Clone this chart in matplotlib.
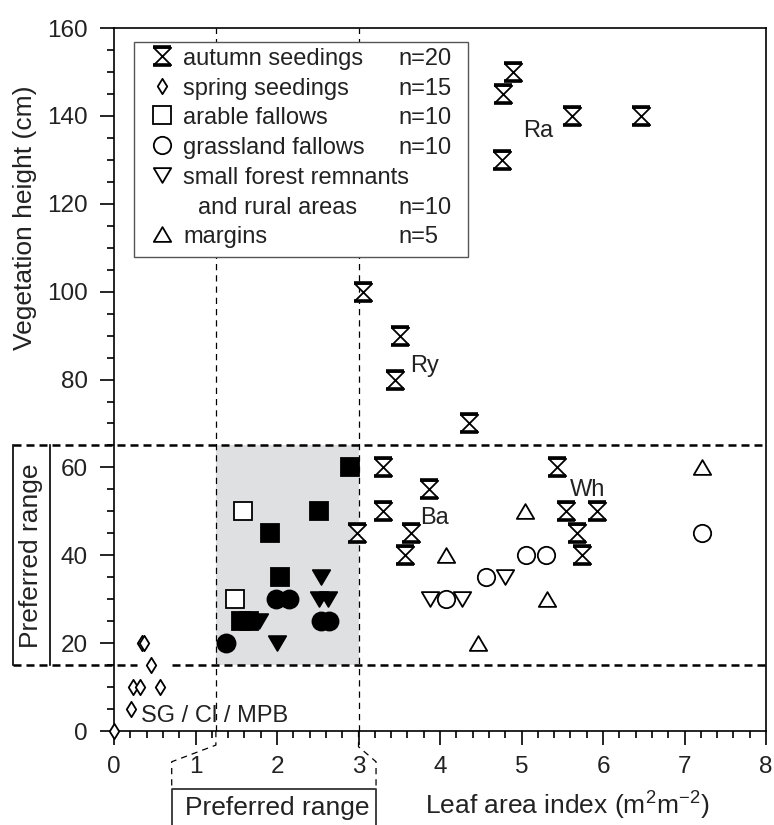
import matplotlib
matplotlib.use('Agg')
import matplotlib.pyplot as plt
from matplotlib.path import Path
from matplotlib.patches import Rectangle
from matplotlib.transforms import blended_transform_factory
import numpy as np

plt.rcParams['font.family'] = ['Liberation Sans', 'DejaVu Sans']
plt.rcParams['mathtext.default'] = 'regular'

# ---------------- data ----------------
autumn_lai = [4.90, 4.77, 4.76, 5.62, 6.47, 3.05, 3.51, 3.45, 4.36, 3.30,
              5.43, 3.86, 3.30, 2.98, 3.64, 3.57, 5.55, 5.93, 5.68, 5.74]
autumn_h = [150, 145, 130, 140, 140, 100, 90, 80, 70, 60,
            60, 55, 50, 45, 45, 40, 50, 50, 45, 40]

spring_lai = [0.0, 0.21, 0.23, 0.32, 0.57, 0.45, 0.34, 0.37]
spring_h = [0, 5, 10, 10, 10, 15, 20, 20]

arable_lai_filled = [1.91, 2.04, 2.52, 2.90, 1.56, 1.66]
arable_h_filled = [45, 35, 50, 60, 25, 25]
arable_lai_open = [1.58, 1.48]
arable_h_open = [50, 30]

grass_lai_filled = [1.37, 1.99, 2.15, 2.54, 2.64]
grass_h_filled = [20, 30, 30, 25, 25]
grass_lai_open = [7.21, 5.05, 5.30, 4.57, 4.07]
grass_h_open = [45, 40, 40, 35, 30]

forest_lai_filled = [2.54, 2.52, 2.62, 1.78, 2.00]
forest_h_filled = [35, 30, 30, 25, 20]
forest_lai_open = [3.88, 4.27, 4.80]
forest_h_open = [30, 30, 35]

margin_lai = [7.21, 5.04, 4.07, 5.31, 4.47]
margin_h = [60, 50, 40, 30, 20]

legend_labels = ['autumn seedings', 'spring seedings', 'arable fallows',
                 'grassland fallows', 'small forest remnants', 'and rural areas', 'margins']
legend_n = ['n=20', 'n=15', 'n=10', 'n=10', '', 'n=10', 'n=5']

crop_labels = ['Ra', 'Ry', 'Ba', 'Wh', 'SG / Cl / MPB']
crop_lai = [5.02, 3.63, 3.75, 5.59, 0.33]
crop_h = [135.3, 81.8, 47.1, 53.5, 2.1]

lai_range = [1.25, 3.0]
height_range = [15, 65]

x_ticks = list(range(0, 9))
y_ticks = list(range(0, 161, 20))

# ---------------- markers ----------------
M, L, C = Path.MOVETO, Path.LINETO, Path.CLOSEPOLY
hourglass = Path([(-1, 1), (1, 1), (-1, -1), (1, -1), (-1, 1)], [M, L, L, L, C])
hg_bars = Path([(-1, 1), (1, 1), (-1, -1), (1, -1)], [M, L, M, L])
tri_up = Path([(0, 0.85), (-1, -0.85), (1, -0.85), (0, 0.85)], [M, L, L, C])
tri_down = Path([(0, -0.85), (-1, 0.85), (1, 0.85), (0, -0.85)], [M, L, L, C])
diamond = Path([(0, 1), (0.62, 0), (0, -1), (-0.62, 0), (0, 1)], [M, L, L, L, C])

TXT = '#222222'
fig = plt.figure(figsize=(7.74, 8.25), dpi=100)
ax = fig.add_axes([0.1473, 0.1139, 0.8424, 0.8521])
ax.set_xlim(0, 8)
ax.set_ylim(0, 160)

# preferred range shading and lines
ax.add_patch(Rectangle((lai_range[0], height_range[0]), lai_range[1] - lai_range[0],
                       height_range[1] - height_range[0], fc='#dfe0e2', ec='none', zorder=0.5))
for xv in lai_range:
    ax.plot([xv, xv], [0, 160], color='black', lw=0.9, ls=(0, (5, 4)), zorder=1)

tr_left = blended_transform_factory(ax.transAxes, ax.transData)
hd = dict(color='black', lw=1.8, ls=(0, (3.2, 2.0)), zorder=1.2, clip_on=False)
ax.plot([-0.1554, 1.0], [height_range[1]] * 2, transform=tr_left, **hd)
ax.plot([-0.1554, 0.28 / 8], [height_range[0]] * 2, transform=tr_left, **hd)
ax.plot([0.71 / 8, 1.0], [height_range[0]] * 2, transform=tr_left, **hd)
for xa in (-0.1554, -0.0982):
    ax.plot([xa, xa], height_range, transform=tr_left, color='black', lw=1.2, clip_on=False)
ax.text(-0.1268, 40, 'Preferred range', transform=tr_left, rotation=90, ha='center',
        va='center', fontsize=19, color=TXT)

tr_bot = blended_transform_factory(ax.transData, ax.transAxes)
bd = dict(color='black', lw=0.9, ls=(0, (5, 4)), clip_on=False)
ax.plot([lai_range[0], lai_range[0], 0.708, 0.708], [0, -0.020, -0.0437, -0.0825], transform=tr_bot, **bd)
ax.plot([lai_range[1], lai_range[1], 3.215, 3.215], [0, -0.0223, -0.0437, -0.0825], transform=tr_bot, **bd)
ax.plot([0.708, 0.708, 3.215, 3.215], [-0.15, -0.0825, -0.0825, -0.15], transform=tr_bot,
        color='#333333', lw=1.3, clip_on=False)
ax.text(2.0, -0.1195, 'Preferred range', transform=tr_bot, ha='center', va='baseline',
        fontsize=19, color=TXT)
ax.text(3.82, -0.1195, 'Leaf area index (m$^{2}$m$^{-2}$)', transform=tr_bot, ha='left',
        va='baseline', fontsize=19, color=TXT)
ax.text(-0.1365, 0.7297, 'Vegetation height (cm)', transform=ax.transAxes, rotation=90,
        ha='center', va='center', fontsize=19, color=TXT)

# ---------------- data points ----------------
mew = 1.3
op = dict(ls='none', mfc='white', mec='black', mew=mew, zorder=3, clip_on=False)
fl = dict(ls='none', mfc='black', mec='black', mew=mew, zorder=3, clip_on=False)

ax.plot(autumn_lai, autumn_h, marker=hourglass, ms=12.5, **op)
ax.plot(autumn_lai, autumn_h, marker=hg_bars, ms=12.5, ls='none', mec='black', mew=2.6,
        mfc='none', zorder=3.1)
ax.plot(spring_lai, spring_h, marker=diamond, ms=11, **op)
ax.plot(arable_lai_filled, arable_h_filled, marker='s', ms=12.5, **fl)
ax.plot(arable_lai_open, arable_h_open, marker='s', ms=12.5, **op)
ax.plot(grass_lai_filled, grass_h_filled, marker='o', ms=13, **fl)
ax.plot(grass_lai_open, grass_h_open, marker='o', ms=12.5, **op)
ax.plot(forest_lai_filled, forest_h_filled, marker=tri_down, ms=12.5, **fl)
ax.plot(forest_lai_open, forest_h_open, marker=tri_down, ms=12.5, **op)
ax.plot(margin_lai, margin_h, marker=tri_up, ms=12.5, **op)

for lab, xv, yv in zip(crop_labels, crop_lai, crop_h):
    ax.text(xv, yv, lab, ha='left', va='baseline', fontsize=17, color=TXT, zorder=4)

# ---------------- legend ----------------
ax.add_patch(Rectangle((0.0307, 0.674), 0.543 - 0.0307, 0.980 - 0.674, transform=ax.transAxes,
                       fc='white', ec='#555555', lw=1.0, zorder=5))
leg_markers = [hourglass, diamond, 's', 'o', tri_down, None, tri_up]
leg_sizes = [12.5, 11, 12.5, 12.5, 12.5, 0, 12.5]
b0, step = 0.9474, 0.04225
for i, (lab, nn, mk, sz) in enumerate(zip(legend_labels, legend_n, leg_markers, leg_sizes)):
    yb = b0 - i * step
    xt = 0.1288 if lab.startswith('and') else 0.1058
    ax.text(xt, yb, lab, transform=ax.transAxes, ha='left', va='baseline', fontsize=17,
            color=TXT, zorder=6)
    if nn:
        ax.text(0.4356, yb, nn, transform=ax.transAxes, ha='left', va='baseline', fontsize=17,
                color=TXT, zorder=6)
    if mk is not None:
        ax.plot([0.0731], [yb + 0.0128], transform=ax.transAxes, marker=mk, ms=sz, ls='none',
                mfc='white', mec='black', mew=mew, zorder=6, clip_on=False)
        if mk is hourglass:
            ax.plot([0.0731], [yb + 0.0128], transform=ax.transAxes, marker=hg_bars, ms=sz,
                    ls='none', mfc='none', mec='black', mew=2.6, zorder=6.1, clip_on=False)

# ---------------- axes styling ----------------
ax.set_xticks(x_ticks)
ax.set_xticks(np.arange(0, 8.001, 0.2), minor=True)
ax.set_yticks(y_ticks)
ax.set_yticks(np.arange(0, 160.001, 5), minor=True)
ax.tick_params(which='major', direction='out', length=10, width=1.2, labelsize=17.5,
               labelcolor=TXT, top=False, right=False)
ax.tick_params(which='minor', direction='out', length=5, width=1.2, top=False, right=False)
ax.tick_params(axis='x', which='major', pad=8)
ax.tick_params(axis='y', which='major', pad=9)
for sp in ax.spines.values():
    sp.set_linewidth(1.2)

fig.savefig('out.png', dpi=100)
